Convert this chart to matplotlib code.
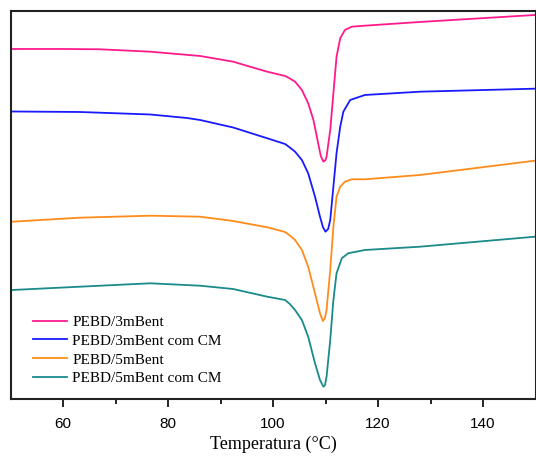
import numpy as np
from matplotlib import pyplot as plt

# DSC curves, heat flow in arbitrary units (endo down)
t_3m = [50.1, 60.0, 67.0, 76.6, 86.1, 92.4, 95.6, 98.9, 102.3, 103.2, 104.2, 105.5, 106.7,
        107.7, 108.6, 109.1, 109.6, 110.0, 110.2, 110.9, 111.5, 112.1, 112.8, 113.7, 115.0,
        117.5, 128.0, 149.9]
hf_3m = [351, 351, 350.7, 348.3, 344, 338.3, 333.3, 328.3, 324, 321.5, 318.3, 310, 296.7,
         280, 256.7, 244, 238.3, 240, 243.3, 270, 306.7, 343.3, 361.7, 370, 373.3, 374.3,
         378, 385]

t_3m_cm = [50.1, 63.2, 76.6, 83.6, 86.1, 92.4, 98.9, 102.3, 103.2, 104.2, 105.5, 106.7,
           108.0, 108.95, 109.5, 110.0, 110.5, 110.9, 111.5, 112.1, 112.8, 113.4, 114.7,
           117.5, 128.0, 149.9]
hf_3m_cm = [288.5, 288, 285.5, 282, 280, 272.5, 261.7, 256, 252.5, 248.3, 240, 226.7,
            203.3, 183.3, 173, 168.3, 171, 180, 213.3, 246.7, 273.3, 288.3, 300, 305,
            308.3, 311.3]

t_5m = [50.3, 63.2, 76.6, 86.1, 92.4, 98.9, 102.3, 103.2, 104.2, 105.5, 106.7, 108.0,
        108.95, 109.5, 109.9, 110.2, 110.9, 111.5, 112.1, 112.8, 113.7, 115.0, 117.5,
        128.0, 149.9]
hf_5m = [178.3, 182.3, 184.3, 183.3, 179, 172.7, 168, 164.5, 160, 150, 133.3, 106.7,
         86.7, 79, 82, 90, 130, 173.3, 203.3, 213.3, 218.3, 220.7, 220.7, 225, 239.3]

t_5m_cm = [50.3, 63.2, 76.6, 86.1, 92.4, 98.9, 102.3, 103.2, 104.2, 105.5, 106.7, 108.0,
           108.95, 109.6, 109.9, 110.2, 110.9, 111.5, 112.1, 113.1, 114.3, 117.5, 128.0,
           149.9]
hf_5m_cm = [110, 113.3, 116.7, 114.3, 111, 103.3, 100, 96, 90, 80, 63.3, 36.7,
            20, 13.3, 15, 23.3, 60, 100, 126.7, 141.7, 146.7, 150, 153.3, 163.3]

labels = ['PEBD/3mBent', 'PEBD/3mBent com CM', 'PEBD/5mBent', 'PEBD/5mBent com CM']
colors = ['#ff1a8c', '#1a1aff', '#ff8c1a', '#1a8a8a']

fig = plt.figure(figsize=(5.36, 4.59), dpi=100)
ax = fig.add_axes([0.0196, 0.1307, 0.9795, 0.8443])

curves = [(t_3m, hf_3m), (t_3m_cm, hf_3m_cm), (t_5m, hf_5m), (t_5m_cm, hf_5m_cm)]
for (t, hf), lab, c in zip(curves, labels, colors):
    ax.plot(t, hf, color=c, lw=1.3, label=lab, solid_joinstyle='round')

ax.set_xlim(50, 150)
ax.set_ylim(1, 388.5)
ax.set_xticks([60, 80, 100, 120, 140])
ax.set_xticks([70, 90, 110, 130], minor=True)
ax.set_yticks([])
ax.tick_params(axis='x', which='major', direction='out', length=6, width=1.2,
               labelsize=11, pad=7)
ax.tick_params(axis='x', which='minor', direction='out', length=3.5, width=1.2)
for lab in ax.get_xticklabels():
    lab.set_family('Liberation Sans')
for s in ax.spines.values():
    s.set_linewidth(1.5)
    s.set_color('#222222')

ax.set_xlabel('Temperatura (°C)', family='Liberation Serif', fontsize=13, labelpad=3)

ax.legend(loc='lower left', bbox_to_anchor=(0.017, 0.0), frameon=False,
          prop={'family': 'Liberation Serif', 'size': 11},
          handlelength=2.2, handletextpad=0.35, labelspacing=0.33)

fig.savefig('out.png', dpi=100)
